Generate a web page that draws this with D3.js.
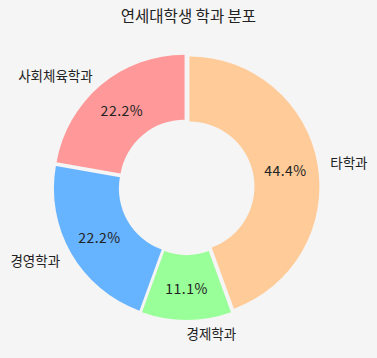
<!DOCTYPE html>
<html>
<head>
<meta charset="utf-8">
<script src="https://cdn.jsdelivr.net/npm/d3@7"></script>
<style>
  body { margin: 0; background: #f5f5f5; }
  text { font-family: "Noto Sans CJK KR", "Noto Sans", sans-serif; fill: #222; }
</style>
</head>
<body>
<div id="chart"></div>
<script>
const width = 377, height = 358;

// data
const departments = ["타학과", "경제학과", "경영학과", "사회체육학과"];
const counts = [4, 1, 2, 2];
const colors = ["#ffcc99", "#99ff99", "#66b3ff", "#ff9999"];

const cx = 186.5, cy = 187;
const radius = 130,
  holeRadius = 65,
  explode = 3;

let svg = d3.select("#chart")
  .append("svg")
    .attr("width", width)
    .attr("height", height)
    .style("background", "#f5f5f5");

svg.append("text")
  .attr("x", width / 2)
  .attr("y", 15)
  .attr("text-anchor", "middle")
  .attr("dominant-baseline", "central")
  .style("font-size", "15.5px")
  .text("연세대학생 학과 분포");

const total = d3.sum(counts);

const pie = d3.pie()
  .sort(null)
  .value(d => d.count);

const slices = pie(departments.map((name, i) => ({name: name, count: counts[i], color: colors[i]})));

const arc = d3.arc().innerRadius(holeRadius).outerRadius(radius);

// offset of a slice along its bisector
function shift(d, r) {
  const a = (d.startAngle + d.endAngle) / 2;
  return [Math.sin(a) * r, -Math.cos(a) * r];
}

const g = svg.append("g")
  .attr("transform", `translate(${cx}, ${cy})`);

g.selectAll("path")
  .data(slices)
  .join("path")
    .attr("d", arc)
    .attr("transform", d => {
      const [x, y] = shift(d, explode);
      return `translate(${x}, ${y})`;
    })
    .style("fill", d => d.data.color);

// percent labels
g.selectAll("text.pct")
  .data(slices)
  .join("text")
    .attr("class", "pct")
    .attr("x", d => shift(d, radius * 0.75 + explode)[0])
    .attr("y", d => shift(d, radius * 0.75 + explode)[1])
    .attr("text-anchor", "middle")
    .attr("dominant-baseline", "central")
    .style("font-size", "14px")
    .style("letter-spacing", "0.5px")
    .text(d => (d.data.count / total * 100).toFixed(1) + "%");

// category labels
g.selectAll("text.name")
  .data(slices)
  .join("text")
    .attr("class", "name")
    .attr("x", d => shift(d, radius * 1.1 + explode)[0])
    .attr("y", d => shift(d, radius * 1.1 + explode)[1])
    .attr("text-anchor", d => shift(d, 1)[0] >= -1e-6 ? "start" : "end")
    .attr("dominant-baseline", "central")
    .style("font-size", "13.5px")
    .text(d => d.data.name);
</script>
</body>
</html>
